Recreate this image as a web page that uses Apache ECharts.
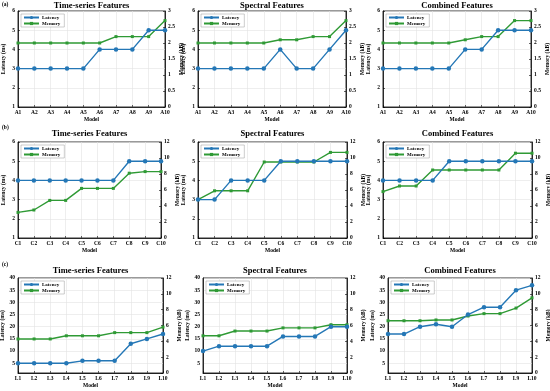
<!DOCTYPE html>
<html><head><meta charset="utf-8">
<script src="https://cdn.jsdelivr.net/npm/echarts@6/dist/echarts.min.js"></script>
<style>html,body{margin:0;padding:0;background:#fff}#c{width:550px;height:391px}</style>
</head><body><div id="c"></div>
<script>
// ---------- data ----------
const catsA = ['A1','A2','A3','A4','A5','A6','A7','A8','A9','A10'];
const catsC = ['C1','C2','C3','C4','C5','C6','C7','C8','C9','C10'];
const catsL = ['L1','L2','L3','L4','L5','L6','L7','L8','L9','L10'];
const titles = ['Time-series Features','Spectral Features','Combined Features'];

const aTimeLatency = [3,3,3,3,3,4,4,4,5,5];
const aTimeMemory  = [2,2,2,2,2,2,2.2,2.2,2.2,2.7];
const aSpecLatency = [3,3,3,3,3,4,3,3,4,5];
const aSpecMemory  = [2,2,2,2,2,2.1,2.1,2.2,2.2,2.7];
const aCombLatency = [3,3,3,3,3,4,4,5,5,5];
const aCombMemory  = [2,2,2,2,2,2.1,2.2,2.2,2.7,2.7];

const bTimeLatency = [4,4,4,4,4,4,4,5,5,5];
const bTimeMemory  = [3.2,3.5,4.7,4.7,6.2,6.2,6.2,8.1,8.3,8.3];
const bSpecLatency = [3,3,4,4,4,5,5,5,5,5];
const bSpecMemory  = [4.8,5.9,5.9,5.9,9.5,9.5,9.5,9.5,10.7,10.7];
const bCombLatency = [4,4,4,4,5,5,5,5,5,5];
const bCombMemory  = [5.8,6.5,6.5,8.5,8.5,8.5,8.5,8.5,10.6,10.6];

const cTimeLatency = [5,5,5,5,6,6,6,13,15,17];
const cTimeMemory  = [4.3,4.3,4.3,4.7,4.7,4.7,5.1,5.1,5.1,5.8];
const cSpecLatency = [10,12,12,12,12,16,16,16,20,20];
const cSpecMemory  = [4.7,4.7,5.3,5.3,5.3,5.7,5.7,5.7,6.1,6.1];
const cCombLatency = [17,17,20,21,20,25,28,28,35,37];
const cCombMemory  = [6.6,6.6,6.6,6.7,6.7,7.2,7.5,7.5,8.2,9.5];

const leftTicksAB = {min:1, max:6, interval:1};
const rightTicksA = {min:0, max:3, interval:0.5};
const rightTicksBC = {min:0, max:12, interval:2};
const leftTicksC = {min:1, max:40, labelStep:5};

// ---------- layout ----------
const FONT = '"Liberation Serif", "Times New Roman", serif';
const BLUE = '#2477b6', GREEN = '#2f9a35';
const rowTop = [11, 142, 278];
const rowH = [96, 96, 95];
const lefts = [[18,198,383],[18,198,383],[18,203,388]];
const rights = [[165,346,531],[161,347,532],[163,347,532]];
const panelLabelY = [5, 128, 265];
const titleY = [6, 134, 271];

const panels = [
  [catsA, aTimeLatency, aTimeMemory], [catsA, aSpecLatency, aSpecMemory], [catsA, aCombLatency, aCombMemory],
  [catsC, bTimeLatency, bTimeMemory], [catsC, bSpecLatency, bSpecMemory], [catsC, bCombLatency, bCombMemory],
  [catsL, cTimeLatency, cTimeMemory], [catsL, cSpecLatency, cSpecMemory], [catsL, cCombLatency, cCombMemory]
];

const grid=[], xAxis=[], yAxis=[], series=[], legend=[], graphic=[];
const lbl = {fontFamily: FONT, fontWeight:'bold', fontSize:5.5, color:'#000'};
const nameStyle = {fontFamily: FONT, fontWeight:'bold', fontSize:5.5, color:'#000'};

panels.forEach((p, i) => {
  const r = Math.floor(i/3), c = i%3;
  const L = lefts[r][c], R = rights[r][c];
  grid.push({left:L, top:rowTop[r], width:R-L, height:rowH[r], show:true, borderColor:'#000', borderWidth:0.8, backgroundColor:'rgba(0,0,0,0)', containLabel:false, outerBoundsMode:'none'});
  xAxis.push({type:'category', gridIndex:i, data:p[0], boundaryGap:false,
    axisLine:{lineStyle:{color:'#000', width:0.8}},
    axisTick:{inside:true, length:2, interval:0, lineStyle:{color:'#000', width:0.6}},
    axisLabel:Object.assign({interval:0, margin:3}, lbl),
    splitLine:{show:true, interval:0, lineStyle:{color:'#e3e3e3', width:0.6}},
    name:'Model', nameLocation:'middle', nameGap:10, nameTextStyle:nameStyle});
  let left;
  if (r < 2) {
    left = {type:'value', gridIndex:i, position:'left', min:leftTicksAB.min, max:leftTicksAB.max, interval:leftTicksAB.interval,
      axisTick:{show:true, inside:true, length:2, lineStyle:{color:'#000', width:0.6}},
      splitLine:{show:true, lineStyle:{color:'#e3e3e3', width:0.6}}};
  } else {
    const cols = [];
    for (let k=0;k<leftTicksC.labelStep;k++) cols.push(k===leftTicksC.labelStep-1 ? '#e3e3e3' : 'rgba(0,0,0,0)');
    left = {type:'value', gridIndex:i, position:'left', min:leftTicksC.min, max:leftTicksC.max, interval:1,
      axisTick:{show:false},
      splitLine:{show:true, lineStyle:{color:cols, width:0.6}}};
    left.axisLabel = Object.assign({margin:3, formatter:(v)=> (v % leftTicksC.labelStep === 0 ? String(v) : '')}, lbl);
  }
  left.axisLine = {show:true, lineStyle:{color:'#000', width:0.8}};
  if (!left.axisLabel) left.axisLabel = Object.assign({margin:3}, lbl);
  left.name = 'Latency (ms)'; left.nameLocation='middle'; left.nameGap = (r===2?12:11); left.nameTextStyle = nameStyle;
  yAxis.push(left);
  const rt = r===0 ? rightTicksA : rightTicksBC;
  yAxis.push({type:'value', gridIndex:i, position:'right', min:rt.min, max:rt.max, interval:rt.interval,
    axisLine:{show:true, lineStyle:{color:'#000', width:0.8}},
    axisTick:{show:true, inside:true, length:2, lineStyle:{color:'#000', width:0.6}},
    axisLabel:Object.assign({margin:3}, lbl),
    splitLine:{show:false},
    name:'Memory (kB)', nameLocation:'middle', nameGap:(r===0?13:14), nameRotate:90, nameTextStyle:nameStyle});
  series.push({name:'Latency', type:'line', xAxisIndex:i, yAxisIndex:2*i, data:p[1],
    symbol:'circle', symbolSize:4.5, lineStyle:{color:BLUE, width:1.4}, itemStyle:{color:BLUE}, animation:false, z:3});
  series.push({name:'Memory', type:'line', xAxisIndex:i, yAxisIndex:2*i+1, data:p[2],
    symbol:'rect', symbolSize:3, lineStyle:{color:GREEN, width:1.4}, itemStyle:{color:GREEN}, animation:false, z:2});
  legend.push({left:L+3, top:rowTop[r]+3, orient:'vertical', data:['Latency','Memory'],
    itemWidth:15, itemHeight:4, itemGap:1, padding:[1,4,1,2],
    backgroundColor:'#fff', borderColor:'#999', borderWidth:0.5, selectedMode:false,
    textStyle:{fontFamily:FONT, fontWeight:'bold', fontSize:5, color:'#000', padding:[0,0,0,-2]}});
  graphic.push({type:'text', x:(L+R)/2, y:titleY[r], style:{text:titles[c], textAlign:'center', textVerticalAlign:'middle',
    font:'bold 8.5px ' + FONT, fill:'#000'}});
});
['(a)','(b)','(c)'].forEach((t,k)=>{
  graphic.push({type:'text', x:2, y:panelLabelY[k], style:{text:t, textVerticalAlign:'middle', font:'bold 5.5px ' + FONT, fill:'#000'}});
});

const chart = echarts.init(document.getElementById('c'), null, {renderer:'canvas'});
chart.setOption({animation:false, backgroundColor:'#fff', grid, xAxis, yAxis, series, legend, graphic});
</script>
</body></html>
